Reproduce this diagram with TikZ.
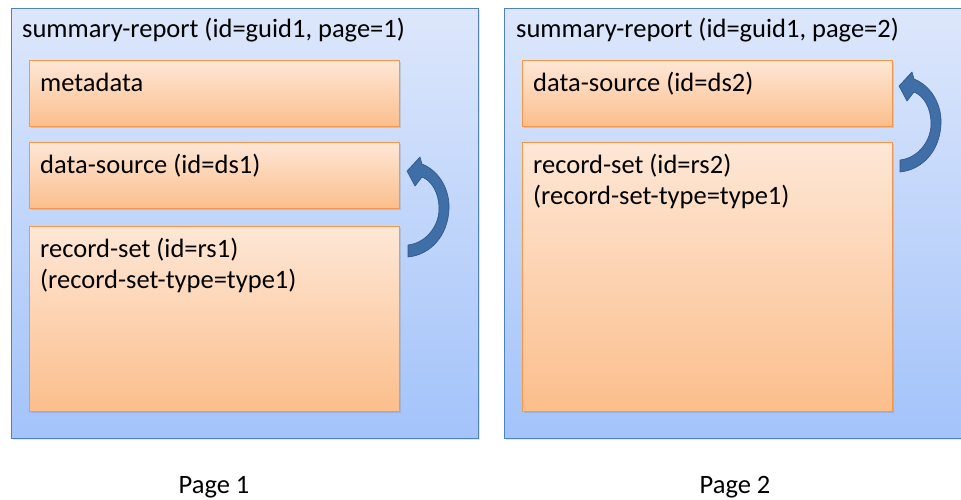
\documentclass[tikz,border=0pt]{standalone}
\usepackage{fontspec}
\setmainfont{Carlito}
\usetikzlibrary{shadows}

\definecolor{pageblue}{RGB}{79,129,189}
\definecolor{pagetop}{RGB}{221,231,251}
\definecolor{pagebottom}{RGB}{163,195,250}
\definecolor{partorange}{RGB}{247,150,70}
\definecolor{parttop}{RGB}{253,231,214}
\definecolor{partbottom}{RGB}{252,190,140}
\definecolor{arrowblue}{RGB}{64,110,166}
\definecolor{arrowedge}{RGB}{46,84,134}

\begin{document}
\begin{tikzpicture}[x=1pt,y=-1pt,
    outerbox/.style={draw=pageblue, line width=1.4pt, top color=pagetop, bottom color=pagebottom,
        anchor=north west, inner sep=0pt, drop shadow={opacity=0.2, shadow xshift=1pt, shadow yshift=-1.5pt}},
    innerbox/.style={draw=partorange, line width=1.4pt, top color=parttop, bottom color=partbottom,
        anchor=north west, inner sep=0pt, minimum width=370pt,
        drop shadow={opacity=0.25, shadow xshift=1pt, shadow yshift=-1.5pt}},
    boxtext/.style={anchor=base west, inner sep=0pt, align=left,
        font=\fontsize{26.5}{31}\selectfont},
    pagelabel/.style={anchor=base, inner sep=0pt, font=\fontsize{26.5}{31}\selectfont},
    turnarrow/.style={fill=arrowblue, draw=arrowedge, line width=0.6pt, line join=round}]
\path[use as bounding box] (0,0) rectangle (961,499);
\clip (0,0) rectangle (961,499);

% page 1
\node[outerbox, minimum width=467pt, minimum height=430pt] (page1) at (11,8) {};
\node[boxtext] (title1) at (22,37) {summary-report (id=guid1, page=1)};
\node[innerbox, minimum height=66pt] (meta1) at (29,60) {};
\node[boxtext] at (40,91) {metadata};
\node[innerbox, minimum height=66pt] (ds1) at (29,142) {};
\node[boxtext] at (40,173) {data-source (id=ds1)};
\node[innerbox, minimum height=185pt] (rs1) at (29,226) {};
\node[boxtext] at (40,288) {record-set (id=rs1)\\(record-set-type=type1)};

% page 2
\node[outerbox, minimum width=467pt, minimum height=430pt] (page2) at (504,8) {};
\node[boxtext] (title2) at (516,37) {summary-report (id=guid1, page=2)};
\node[innerbox, minimum height=66pt] (ds2) at (522,60) {};
\node[boxtext] at (533,91) {data-source (id=ds2)};
\node[innerbox, minimum height=269pt] (rs2) at (522,142) {};
\node[boxtext] at (533,204) {record-set (id=rs2)\\(record-set-type=type1)};

% arrows from record-set back to data-source
\begin{scope}[shift={(408,251)}]
  \draw[turnarrow] (-1,-80) -- (12,-94) -- (14,-87)
    .. controls (32,-80) and (42,-60) .. (41,-42)
    .. controls (40,-15) and (22,4) .. (0,6) -- (0,-6)
    .. controls (18,-8) and (31,-25) .. (31,-42)
    .. controls (31,-58) and (24,-70) .. (14,-74) -- (7,-65) -- cycle;
\end{scope}
\begin{scope}[shift={(900,166)}]
  \draw[turnarrow] (-1,-80) -- (12,-94) -- (14,-87)
    .. controls (32,-80) and (42,-60) .. (41,-42)
    .. controls (40,-15) and (22,4) .. (0,6) -- (0,-6)
    .. controls (18,-8) and (31,-25) .. (31,-42)
    .. controls (31,-58) and (24,-70) .. (14,-74) -- (7,-65) -- cycle;
\end{scope}

\node[pagelabel] (label1) at (214,493) {Page 1};
\node[pagelabel] (label2) at (735,493) {Page 2};
\end{tikzpicture}
\end{document}
